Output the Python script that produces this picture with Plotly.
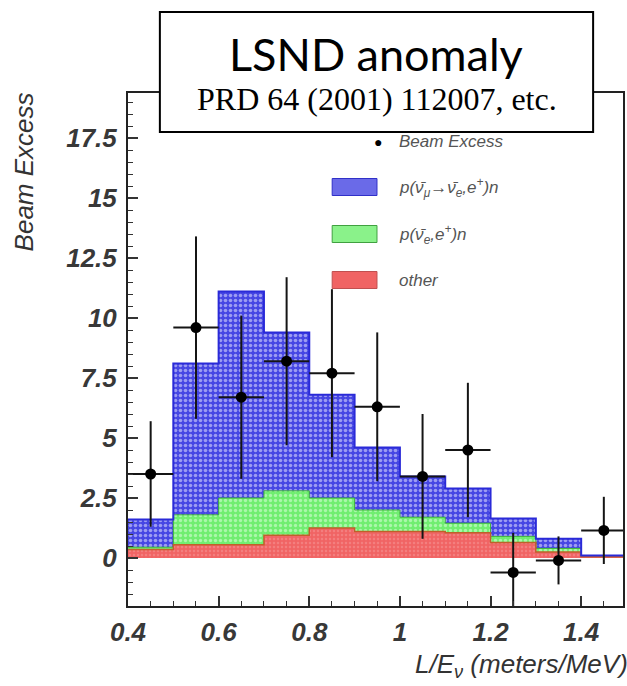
import plotly.graph_objects as go

# ---------------- data ----------------
bin_centers = [0.45, 0.55, 0.65, 0.75, 0.85, 0.95, 1.05, 1.15, 1.25, 1.35, 1.45]
bin_edges = [0.4, 0.5, 0.6, 0.7, 0.8, 0.9, 1.0, 1.1, 1.2, 1.3, 1.4, 1.5]
# cumulative (stacked) heights
total_osc = [1.6, 8.1, 11.1, 9.4, 6.8, 4.6, 3.4, 2.9, 1.65, 0.8, 0.1]     # blue top
nue_plus_other = [0.45, 1.8, 2.5, 2.8, 2.5, 2.0, 1.7, 1.45, 0.9, 0.4, 0.08]  # green top
other = [0.35, 0.55, 0.55, 0.95, 1.25, 1.1, 1.1, 1.05, 0.65, 0.25, 0.05]  # red top
excess = [3.5, 9.6, 6.7, 8.2, 7.7, 6.3, 3.4, 4.5, -0.6, -0.1, 1.15]
excess_err = [2.2, 3.8, 3.4, 3.5, 3.5, 3.1, 2.6, 2.8, 1.65, 1.0, 1.4]
bin_halfwidth = [0.05] * 11

y_ticks = [0, 2.5, 5, 7.5, 10, 12.5, 15, 17.5]
y_ticklabels = ["0", "2.5", "5", "7.5", "10", "12.5", "15", "17.5"]
x_ticks = [0.4, 0.6, 0.8, 1.0, 1.2, 1.4]
x_ticklabels = ["0.4", "0.6", "0.8", "1", "1.2", "1.4"]

legend_labels = ["Beam Excess",
                 "p(ν̄<sub>μ</sub>→ν̄<sub>e</sub>,e<sup>+</sup>)n",
                 "p(ν̄<sub>e</sub>,e<sup>+</sup>)n",
                 "other"]

# ---------------- layout geometry ----------------
W, H = 627, 686
L, R, T, B = 128, 2, 93, 80
PX0, PX1, PY0, PY1 = L, W - R, T, H - B


def px(x):
    return (x - PX0) / (PX1 - PX0)


def py(y):
    return (PY1 - y) / (PY1 - PY0)


BLUE = "#4646e4"
GREEN = "#70ee70"
RED = "#f06464"

fig = go.Figure()

fig.add_trace(go.Bar(
    x=bin_centers, y=total_osc, width=0.1, opacity=1,
    marker=dict(color=BLUE, line=dict(width=0),
                pattern=dict(shape=".", fgcolor="#f4f4ff", bgcolor=BLUE,
                             size=5, solidity=0.4)),
    showlegend=False, hoverinfo="skip"))
fig.add_trace(go.Bar(
    x=bin_centers, y=nue_plus_other, width=0.1, opacity=1,
    marker=dict(color=GREEN, line=dict(width=0),
                pattern=dict(shape=".", fgcolor="#e6ffe6", bgcolor=GREEN,
                             size=5, solidity=0.35)),
    showlegend=False, hoverinfo="skip"))
fig.add_trace(go.Bar(
    x=bin_centers, y=other, width=0.1, opacity=1,
    marker=dict(color=RED, line=dict(width=0),
                pattern=dict(shape=".", fgcolor="#f69a9a", bgcolor=RED,
                             size=4, solidity=0.3)),
    showlegend=False, hoverinfo="skip"))

# step outlines
def step(vals):
    return vals + [vals[-1]]

fig.add_trace(go.Scatter(x=bin_edges, y=step(nue_plus_other), mode="lines",
                         line=dict(color="#3fae3f", width=1, shape="hv"),
                         showlegend=False, hoverinfo="skip"))
fig.add_trace(go.Scatter(x=bin_edges, y=step(other), mode="lines",
                         line=dict(color="#c0602a", width=1.5, shape="hv"),
                         showlegend=False, hoverinfo="skip"))
fig.add_trace(go.Scatter(x=bin_edges, y=step(total_osc), mode="lines",
                         line=dict(color="#2a2ad8", width=2, shape="hv"),
                         showlegend=False, hoverinfo="skip"))

# data points
fig.add_trace(go.Scatter(
    x=bin_centers, y=excess, mode="markers",
    marker=dict(color="black", size=11),
    error_y=dict(type="data", array=excess_err, color="#151515", thickness=2, width=0),
    error_x=dict(type="data", array=bin_halfwidth, color="#151515", thickness=2, width=0),
    showlegend=False, hoverinfo="skip"))

tickfont = dict(family="Liberation Sans, Arial", size=26, color="#383838",
                style="italic", weight="bold")

shapes = []
annotations = []

# legend (manual)
leg_rows_y = [141, 187, 234, 280]
sw_x0, sw_x1 = 333, 378
sw_colors = [None, "#6a6ae8", "#8af28a", RED]
sw_lines = [None, "#3030c8", "#40a040", "#c05050"]
for i, lab in enumerate(legend_labels):
    yc = leg_rows_y[i]
    if i > 0:
        shapes.append(dict(type="rect", xref="paper", yref="paper",
                           x0=px(sw_x0), x1=px(sw_x1), y0=py(yc + 8.5), y1=py(yc - 8.5),
                           fillcolor=sw_colors[i], line=dict(color=sw_lines[i], width=1),
                           layer="above"))
    annotations.append(dict(xref="paper", yref="paper", x=px(398), y=py(yc),
                            xanchor="left", yanchor="middle", showarrow=False,
                            text=lab,
                            font=dict(family="Liberation Sans, Arial", size=17,
                                      color="#555", style="italic")))
annotations.append(dict(xref="paper", yref="paper", x=px(379), y=py(141),
                        xanchor="center", yanchor="middle", showarrow=False,
                        text="●", font=dict(size=14, color="black")))

# title box
shapes.append(dict(type="rect", xref="paper", yref="paper",
                   x0=px(160), x1=px(595), y0=py(132), y1=py(12),
                   fillcolor="white", line=dict(color="black", width=2), layer="above"))
annotations.append(dict(xref="paper", yref="paper", x=px(377), y=py(54),
                        xanchor="center", yanchor="middle", showarrow=False,
                        text="LSND anomaly",
                        font=dict(family="Lato, Open Sans", size=45, color="black")))
annotations.append(dict(xref="paper", yref="paper", x=px(378), y=py(99),
                        xanchor="center", yanchor="middle", showarrow=False,
                        text="PRD 64 (2001) 112007, etc.",
                        font=dict(family="Liberation Serif, Times New Roman", size=32,
                                  color="black")))

# axis titles
annotations.append(dict(xref="paper", yref="paper", x=px(24), y=py(172),
                        xanchor="center", yanchor="middle", showarrow=False,
                        textangle=-90, text="Beam Excess",
                        font=dict(family="Liberation Sans, Arial", size=26,
                                  color="#333", style="italic")))
annotations.append(dict(xref="paper", yref="paper", x=px(632), y=py(665),
                        xanchor="right", yanchor="middle", showarrow=False,
                        text="L/E<sub>ν</sub> (meters/MeV)",
                        font=dict(family="Liberation Sans, Arial", size=26,
                                  color="#333", style="italic")))

fig.update_layout(
    width=W, height=H,
    margin=dict(l=L, r=R, t=T, b=B, pad=0),
    paper_bgcolor="white", plot_bgcolor="white",
    barmode="overlay", bargap=0,
    shapes=shapes, annotations=annotations,
    showlegend=False,
    xaxis=dict(range=[0.4, 0.4 + (PX1 - PX0) / 455.0],
               tickvals=x_ticks, ticktext=x_ticklabels,
               ticks="inside", ticklen=10, tickwidth=1.5, tickcolor="#333",
               minor=dict(dtick=0.05, tick0=0.4, ticks="inside", ticklen=5,
                          tickcolor="#333", tickwidth=1.2),
               showline=True, linecolor="#222", linewidth=2, mirror=True,
               showgrid=False, zeroline=False, tickfont=tickfont,
               ticklabelstandoff=2),
    yaxis=dict(range=[-(PY1 - 558) / 24.0, (558 - PY0) / 24.0],
               tickvals=y_ticks, ticktext=y_ticklabels,
               ticks="inside", ticklen=10, tickwidth=1.5, tickcolor="#333",
               minor=dict(dtick=0.5, tick0=0, ticks="inside", ticklen=5,
                          tickcolor="#333", tickwidth=1.2),
               showline=True, linecolor="#222", linewidth=2, mirror=True,
               showgrid=False, zeroline=False, tickfont=tickfont,
               ticklabelstandoff=4),
)

fig.write_html("out.html")
